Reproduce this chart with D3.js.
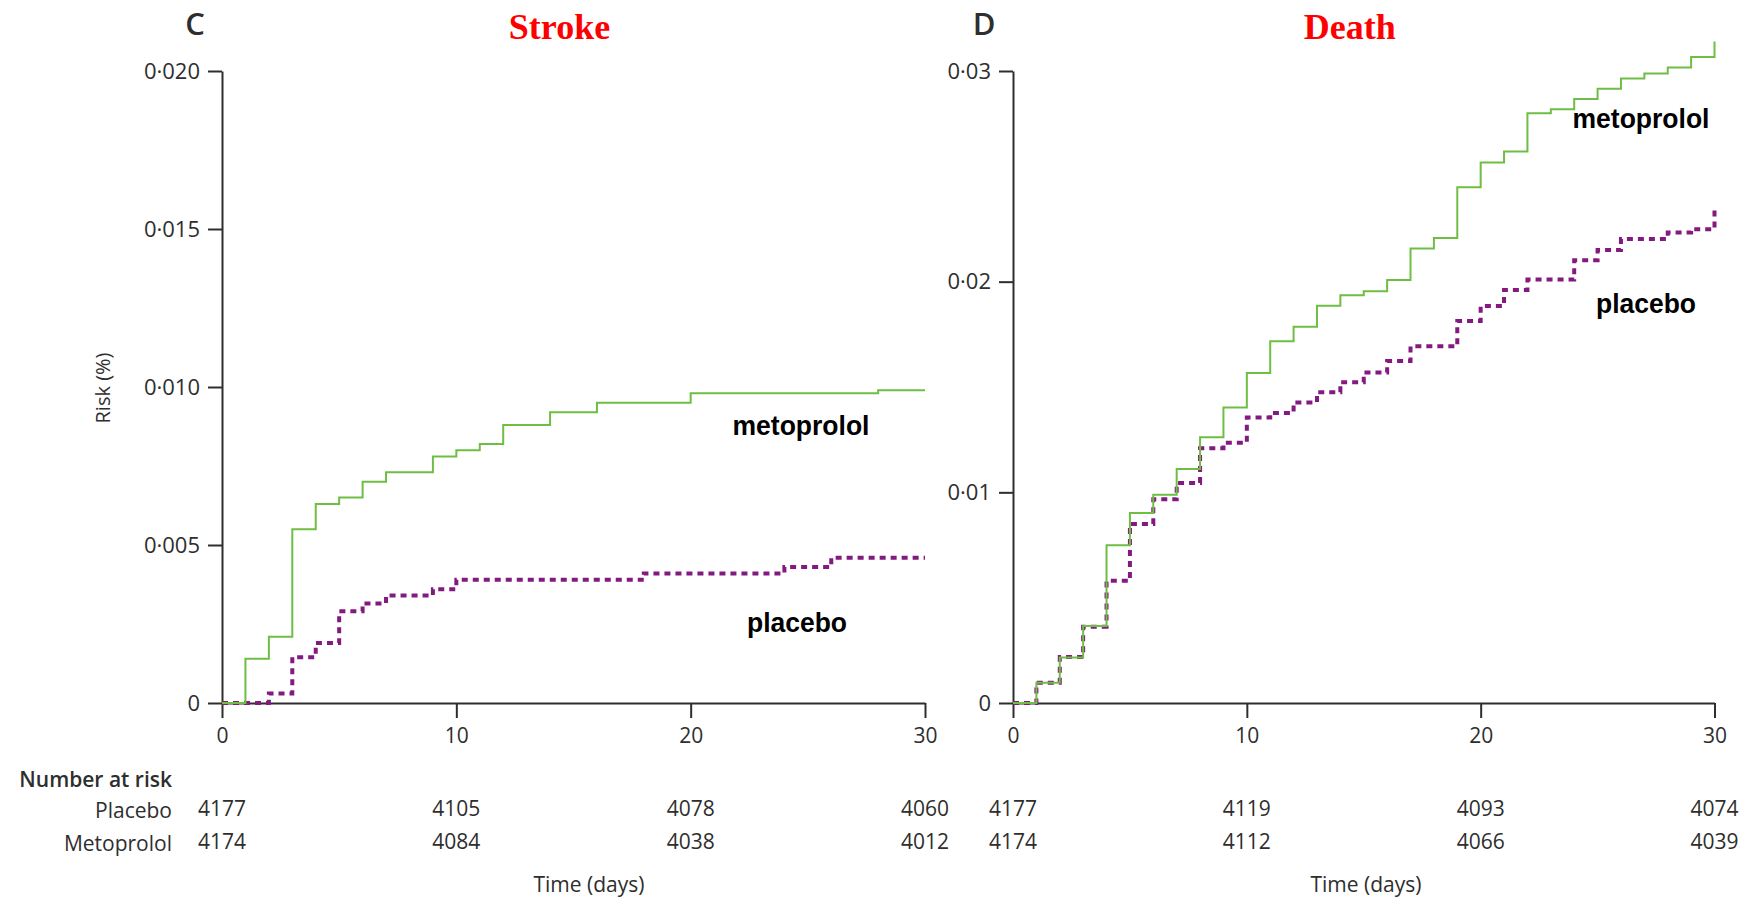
<!DOCTYPE html>
<html>
<head>
<meta charset="utf-8">
<script src="https://cdn.jsdelivr.net/npm/d3@7"></script>
<style>
  html, body { margin: 0; padding: 0; background: #fff; }
  svg { display: block; }
</style>
</head>
<body>
<div id="chart"></div>
<script>
// Days at which the step curves are read (value holds from that day to the next)
const days = [0, 1, 2, 3, 4, 5, 6, 7, 8, 9, 10, 11, 12, 13, 14, 15, 16, 17, 18, 19, 20, 21, 22, 23, 24, 25, 26, 27, 28, 29, 30];

// Panel C - stroke
const strokeMetoprolol = [0, 0.0014, 0.0021, 0.0055, 0.0063, 0.0065, 0.0070, 0.0073, 0.0073, 0.0078, 0.0080,
  0.0082, 0.0088, 0.0088, 0.0092, 0.0092, 0.0095, 0.0095, 0.0095, 0.0095, 0.0098, 0.0098, 0.0098, 0.0098,
  0.0098, 0.0098, 0.0098, 0.0098, 0.0099, 0.0099, 0.0099];
const strokePlacebo = [0, 0, 0.0003, 0.00145, 0.0019, 0.0029, 0.00315, 0.0034, 0.0034, 0.0036, 0.0039,
  0.0039, 0.0039, 0.0039, 0.0039, 0.0039, 0.0039, 0.0039, 0.0041, 0.0041, 0.0041, 0.0041, 0.0041, 0.0041,
  0.0043, 0.0043, 0.0046, 0.0046, 0.0046, 0.0046, 0.0046];

// Panel D - death
const deathMetoprolol = [0, 0.00096, 0.00216, 0.00366, 0.00749, 0.00902, 0.00989, 0.01111, 0.01261, 0.01403, 0.01566,
  0.01717, 0.01786, 0.01886, 0.01935, 0.01955, 0.02008, 0.02157, 0.02207, 0.02448, 0.02566, 0.02618, 0.02799, 0.02818,
  0.02867, 0.02916, 0.02964, 0.02988, 0.03017, 0.03067, 0.0314];
const deathPlacebo = [0, 0.00096, 0.00218, 0.00362, 0.0058, 0.0085, 0.00967, 0.01044, 0.01209, 0.01235, 0.01355,
  0.01377, 0.01427, 0.01475, 0.01523, 0.01569, 0.01623, 0.01693, 0.01693, 0.01813, 0.01885, 0.01961, 0.0201, 0.0201,
  0.02102, 0.0215, 0.02203, 0.02203, 0.02233, 0.02249, 0.02348];

// Axes
const xTicks = [0, 10, 20, 30];
const strokeYTicks = [0, 0.005, 0.010, 0.015, 0.020];
const deathYTicks = [0, 0.01, 0.02, 0.03];

// Number at risk (at days 0, 10, 20, 30)
const strokeAtRiskPlacebo = [4177, 4105, 4078, 4060];
const strokeAtRiskMetoprolol = [4174, 4084, 4038, 4012];
const deathAtRiskPlacebo = [4177, 4119, 4093, 4074];
const deathAtRiskMetoprolol = [4174, 4112, 4066, 4039];

const GREEN = '#6ebe44';
const PURPLE = '#821a80';
const INK = '#2e2e2e';
const SANS = '"Open Sans", "Noto Sans", sans-serif';

const width = 1753, height = 906;
const plotTop = 71, plotBottom = 703;

const svg = d3.select('#chart').append('svg')
  .attr('width', width)
  .attr('height', height)
  .style('background', '#fff');

const panels = [
  {
    letter: 'C', title: 'Stroke', x0: 222, x1: 925, letterX: 195, timeX: 589,
    yMax: 0.020, yTicks: strokeYTicks, decimals: 3,
    metoprolol: strokeMetoprolol, placebo: strokePlacebo,
    riskPlacebo: strokeAtRiskPlacebo, riskMetoprolol: strokeAtRiskMetoprolol,
    metoLabel: [801, 435], placLabel: [797, 632]
  },
  {
    letter: 'D', title: 'Death', x0: 1013, x1: 1714.5, letterX: 984, timeX: 1366,
    yMax: 0.03, yTicks: deathYTicks, decimals: 2,
    metoprolol: deathMetoprolol, placebo: deathPlacebo,
    riskPlacebo: deathAtRiskPlacebo, riskMetoprolol: deathAtRiskMetoprolol,
    metoLabel: [1641, 128], placLabel: [1646, 313]
  }
];

function drawPanel(p) {
  const x = d3.scaleLinear().domain([0, 30]).range([p.x0, p.x1]);
  const y = d3.scaleLinear().domain([0, p.yMax]).range([plotBottom, plotTop]);
  const fmt = v => v === 0 ? '0' : d3.format(`.${p.decimals}f`)(v).replace('.', '\u00b7');

  // y axis
  const gy = svg.append('g')
    .attr('transform', `translate(${p.x0},0)`)
    .style('color', INK)
    .call(d3.axisLeft(y).tickValues(p.yTicks).tickFormat(fmt).tickSize(14).tickSizeOuter(0).tickPadding(8));
  gy.selectAll('path, line').attr('stroke-width', 2);
  gy.selectAll('text').style('font-family', SANS).style('font-size', '22px');

  // x axis
  const gx = svg.append('g')
    .attr('transform', `translate(0,${plotBottom})`)
    .style('color', INK)
    .call(d3.axisBottom(x).tickValues(xTicks).tickFormat(d3.format('d')).tickSize(15).tickSizeOuter(0).tickPadding(10));
  gx.selectAll('path, line').attr('stroke-width', 2);
  gx.selectAll('text').style('font-family', SANS).style('font-size', '21px');

  // curves
  const line = d3.line()
    .x((d, i) => x(days[i]))
    .y(d => y(d))
    .curve(d3.curveStepAfter);

  svg.append('path')
    .datum(p.placebo)
    .attr('d', line)
    .attr('fill', 'none')
    .attr('stroke', PURPLE)
    .attr('stroke-width', 4)
    .attr('stroke-dasharray', '6,5');

  svg.append('path')
    .datum(p.metoprolol)
    .attr('d', line)
    .attr('fill', 'none')
    .attr('stroke', GREEN)
    .attr('stroke-width', 2);

  // panel letter + title
  svg.append('text')
    .attr('x', p.letterX).attr('y', 35)
    .attr('text-anchor', 'middle')
    .style('font-family', SANS).style('font-size', '31px').style('font-weight', 600)
    .attr('fill', INK)
    .text(p.letter);

  svg.append('text')
    .attr('x', (p.x0 + p.x1) / 2 - 14).attr('y', 39)
    .attr('text-anchor', 'middle')
    .style('font-family', '"Liberation Serif", "Times New Roman", serif')
    .style('font-size', '36px').style('font-weight', 'bold')
    .attr('fill', '#ff0000')
    .text(p.title);

  // curve labels
  [['metoprolol', p.metoLabel, 137], ['placebo', p.placLabel, 100]].forEach(([t, pos, len]) => {
    svg.append('text')
      .attr('x', pos[0] - len / 2).attr('y', pos[1])
      .attr('textLength', len)
      .attr('lengthAdjust', 'spacingAndGlyphs')
      .style('font-family', '"Liberation Sans", Arial, sans-serif')
      .style('font-size', '28px').style('font-weight', 'bold')
      .attr('fill', '#000')
      .text(t);
  });

  // number at risk
  const rows = [[p.riskPlacebo, 816], [p.riskMetoprolol, 849]];
  rows.forEach(([vals, yy]) => {
    svg.append('g').selectAll('text')
      .data(vals)
      .join('text')
      .attr('x', (d, i) => x(xTicks[i]))
      .attr('y', yy)
      .attr('text-anchor', 'middle')
      .style('font-family', SANS).style('font-size', '21px')
      .attr('fill', INK)
      .text(d => d);
  });

  svg.append('text')
    .attr('x', p.timeX).attr('y', 892)
    .attr('text-anchor', 'middle')
    .style('font-family', SANS).style('font-size', '21px')
    .attr('fill', INK)
    .text('Time (days)');
}

panels.forEach(drawPanel);

// y-axis title
svg.append('text')
  .attr('transform', 'translate(110,388) rotate(-90)')
  .attr('text-anchor', 'middle')
  .style('font-family', SANS).style('font-size', '20px')
  .attr('fill', INK)
  .text('Risk (%)');

// row headers of the risk table
[['Number at risk', 787, 600], ['Placebo', 818, 400], ['Metoprolol', 851, 400]].forEach(([t, yy, w]) => {
  svg.append('text')
    .attr('x', 172).attr('y', yy)
    .attr('text-anchor', 'end')
    .style('font-family', SANS).style('font-size', '21px').style('font-weight', w)
    .attr('fill', INK)
    .text(t);
});
</script>
</body>
</html>
